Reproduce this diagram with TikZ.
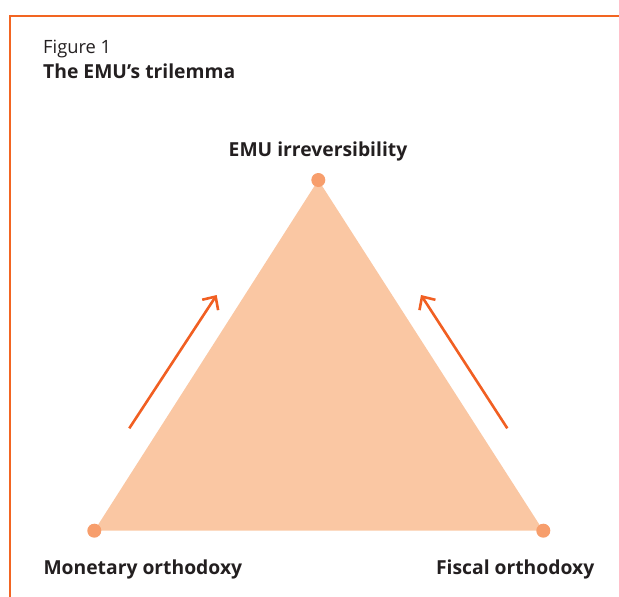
\documentclass[tikz,border=0pt]{standalone}
\usepackage{fontspec}
\setmainfont{Open Sans}
\usetikzlibrary{arrows.meta}
\definecolor{framec}{HTML}{F26522}
\definecolor{areac}{HTML}{FAC7A3}
\definecolor{dotc}{HTML}{F79E6C}
\definecolor{arrowc}{HTML}{F15F22}
\definecolor{textc}{HTML}{231F20}
\tikzset{
  txt/.style={font=\fontsize{19.3}{23}\selectfont\bfseries, text=textc, inner sep=0pt},
  vertex/.style={circle, fill=dotc, minimum size=14pt, inner sep=0pt},
  trend/.style={draw=arrowc, line width=2.6pt, -{Straight Barb[length=10pt,width=19pt,line width=2.6pt]}}
}
\begin{document}
\begin{tikzpicture}[x=1pt,y=-1pt]
\useasboundingbox (0,0) rectangle (619,597);
% frame
\draw[draw=framec, line width=2pt] (10,597) -- (10,16) -- (619,16);
% title
\node[txt, font=\fontsize{18.3}{22}\selectfont, anchor=base west] (fig) at (43,53) {Figure 1};
\node[txt, anchor=base west] (title) at (43,78) {The EMU’s trilemma};
% triangle corners
\coordinate (top) at (318.3,180);
\coordinate (left) at (94.3,530.7);
\coordinate (right) at (543.3,530.7);
\fill[areac] (top) -- (left) -- (right) -- cycle;
\node[vertex] (ntop) at (top) {};
\node[vertex] (nleft) at (left) {};
\node[vertex] (nright) at (right) {};
% labels
\node[txt, anchor=base] (ltop) at (318,156.7) {EMU irreversibility};
\node[txt, anchor=base west] (lleft) at (43.3,574) {Monetary orthodoxy};
\node[txt, anchor=base east] (lright) at (594.5,574) {Fiscal orthodoxy};
% arrows
\coordinate (a1s) at (129.3,428.3);
\coordinate (a1e) at (216.7,295);
\coordinate (a2s) at (507.3,428.3);
\coordinate (a2e) at (421,295);
\draw[trend] (a1s) -- (a1e);
\draw[trend] (a2s) -- (a2e);
\end{tikzpicture}
\end{document}
